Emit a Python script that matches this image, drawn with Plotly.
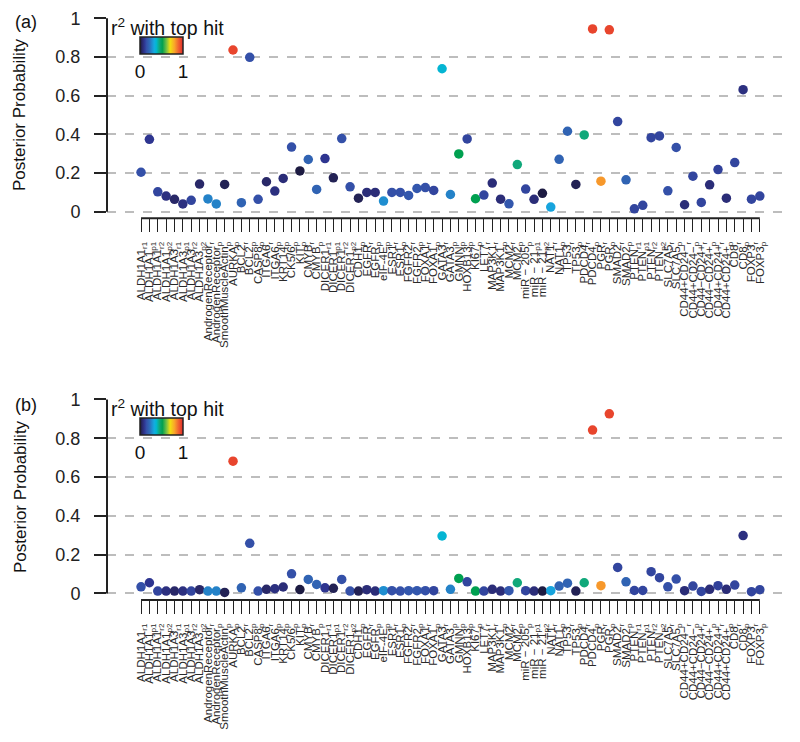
import plotly.graph_objects as go

# ---------------- data ----------------
gene_names = [
    "ALDH1A1", "ALDH1A1", "ALDH1A1", "ALDH1A1", "ALDH1A3", "ALDH1A3", "ALDH1A3", "ALDH1A3",
    "AndrogenReceptor", "AndrogenReceptor", "SmoothMuscleActin", "AURKA", "BCL2", "BCL2",
    "CASP8", "ITGA6", "ITGA6", "KRT14", "CK5/6", "KIT", "CMYB", "CMYB",
    "DICER1", "DICER1", "DICER1", "DICER1", "CDH1", "EGFR", "EGFR", "eIF-4E",
    "ESR1", "ESR1", "FGFR2", "FGFR2", "FOXA1", "FOXA1", "GATA3", "GATA3",
    "GMNN", "HOXB13", "KI67", "LET7", "MAP3K1", "MAP3K1", "MCM2", "MCM2",
    "miR − 205", "miR − 21", "miR − 21", "NAT1", "NAT1", "TP53", "TP53",
    "PDCD4", "PDCD4", "PGR", "PGR", "SMAD2", "SMAD2", "PTEN", "PTEN", "PTEN", "PTEN",
    "SLC7A5", "SLC7A5", "CD44+CD24−", "CD44+CD24−", "CD44−CD24+", "CD44−CD24+",
    "CD44+CD24+", "CD44+CD24+", "CD8", "CD8", "FOXP3", "FOXP3",
]
label_subs = [
    "r1", "p1", "r2", "p2", "r1", "p1", "r2", "p2",
    "r", "p", "p", "p", "r", "p",
    "p", "r", "p", "p", "p", "p", "r", "p",
    "r1", "p1", "r2", "p2", "p", "r", "p", "p",
    "r", "p", "r", "p", "r", "p", "r", "p",
    "p", "p", "p", "r", "r", "p", "r", "p",
    "p", "p1", "p2", "r", "p", "r", "p",
    "r", "p", "r", "p", "r", "p", "r1", "p1", "r2", "p2",
    "r", "p", "r", "p", "r", "p",
    "r", "p", "r", "p", "r", "p",
]
tick_labels = [f"{g}<sub>{s}</sub>" for g, s in zip(gene_names, label_subs)]

# posterior probabilities, panel (a)
pp_a = [
    0.204, 0.374, 0.103, 0.081, 0.064, 0.040, 0.059, 0.143, 0.066, 0.040,
    0.141, 0.836, 0.047, 0.798, 0.064, 0.155, 0.107, 0.172, 0.334, 0.211,
    0.270, 0.115, 0.275, 0.175, 0.378, 0.129, 0.070, 0.100, 0.100, 0.055,
    0.100, 0.100, 0.084, 0.120, 0.125, 0.110, 0.739, 0.089, 0.299, 0.376,
    0.067, 0.086, 0.148, 0.065, 0.041, 0.244, 0.117, 0.064, 0.095, 0.024,
    0.271, 0.416, 0.141, 0.397, 0.945, 0.158, 0.940, 0.466, 0.165, 0.015,
    0.033, 0.383, 0.392, 0.108, 0.332, 0.036, 0.184, 0.048, 0.139, 0.218,
    0.070, 0.254, 0.631, 0.065, 0.081,
]
# posterior probabilities, panel (b)
pp_b = [
    0.034, 0.055, 0.012, 0.012, 0.012, 0.012, 0.012, 0.019, 0.012, 0.012,
    0.005, 0.682, 0.029, 0.258, 0.012, 0.021, 0.024, 0.033, 0.101, 0.020,
    0.072, 0.046, 0.029, 0.026, 0.072, 0.012, 0.012, 0.019, 0.012, 0.014,
    0.014, 0.012, 0.014, 0.014, 0.014, 0.014, 0.296, 0.021, 0.077, 0.060,
    0.012, 0.012, 0.021, 0.012, 0.014, 0.055, 0.014, 0.012, 0.012, 0.014,
    0.038, 0.053, 0.012, 0.055, 0.842, 0.040, 0.926, 0.134, 0.060, 0.015,
    0.015, 0.112, 0.081, 0.034, 0.074, 0.014, 0.038, 0.010, 0.021, 0.040,
    0.021, 0.043, 0.298, 0.009, 0.019,
]
# r^2 with top hit (colour)
r2_top = [
    0.15, 0.10, 0.13, 0.08, 0.05, 0.08, 0.13, 0.05, 0.26, 0.26,
    0.03, 0.95, 0.20, 0.15, 0.15, 0.05, 0.08, 0.07, 0.15, 0.01,
    0.20, 0.20, 0.10, 0.03, 0.15, 0.15, 0.03, 0.07, 0.07, 0.28,
    0.15, 0.15, 0.17, 0.17, 0.15, 0.13, 0.37, 0.26, 0.52, 0.13,
    0.52, 0.13, 0.07, 0.07, 0.17, 0.45, 0.13, 0.07, 0.01, 0.32,
    0.20, 0.20, 0.03, 0.45, 0.95, 0.82, 0.95, 0.13, 0.20, 0.13,
    0.13, 0.13, 0.13, 0.15, 0.15, 0.07, 0.13, 0.13, 0.07, 0.12,
    0.07, 0.13, 0.08, 0.13, 0.13,
]
y_ticks = [0, 0.2, 0.4, 0.6, 0.8, 1]
y_tick_text = ["0", "0.2", "0.4", "0.6", "0.8", "1"]

colorscale = [
    [0.0, "#1a1838"], [0.05, "#292868"], [0.10, "#2e3590"], [0.15, "#3450a8"],
    [0.22, "#2f6ab8"], [0.28, "#1f8ed0"], [0.33, "#15aae0"], [0.38, "#00b8d0"],
    [0.45, "#10a87a"], [0.52, "#00a050"], [0.62, "#7cc242"], [0.70, "#f0e010"],
    [0.80, "#f9a62a"], [0.90, "#f06030"], [1.0, "#e02a2a"],
]

W, H = 792, 734
OFF = 8  # page body margin
FONT = "Liberation Sans, Arial, Helvetica, sans-serif"
idx = list(range(len(tick_labels)))


def py(p):
    return 1 - (p - OFF) / H


def px(p):
    return (p - OFF) / W


fig = go.Figure()
fig.add_trace(go.Scatter(
    x=idx, y=pp_a, mode="markers", xaxis="x", yaxis="y",
    marker=dict(size=9.5, color=r2_top, coloraxis="coloraxis", line=dict(width=0)),
    showlegend=False, cliponaxis=False,
))
fig.add_trace(go.Scatter(
    x=idx, y=pp_b, mode="markers", xaxis="x2", yaxis="y2",
    marker=dict(size=9.5, color=r2_top, coloraxis="coloraxis2", line=dict(width=0)),
    showlegend=False, cliponaxis=False,
))

xdom = [px(107), px(787)]
xrange_ = [-4.07, 77.25]
yrange_ = [-0.034, 1.005]

xaxis_common = dict(
    domain=xdom, range=xrange_, tickmode="array", tickvals=idx, ticktext=tick_labels,
    tickangle=-90, ticks="outside", ticklen=13, tickwidth=1.3, tickcolor="#222",
    showline=False, showgrid=False, zeroline=False, automargin=False,
    tickfont=dict(family=FONT, size=11.5, color="#2a2a2a"), ticklabelstandoff=5,
)
yaxis_common = dict(
    range=yrange_, tickmode="array", tickvals=y_ticks, ticktext=y_tick_text,
    ticks="outside", ticklen=12, tickwidth=1.5, tickcolor="#222", automargin=False,
    showline=False, zeroline=False, showgrid=True, gridcolor="#bdbdbd",
    griddash="dash", gridwidth=1.5, ticklabelstandoff=10,
    tickfont=dict(family=FONT, size=18, color="#222"),
)

cb_common = dict(
    orientation="h", xanchor="center", x=px(161.5), len=43, lenmode="pixels",
    thickness=17, thicknessmode="pixels", tickvals=[0, 1], ticktext=["0", "1"],
    ticks="", outlinewidth=1.5, outlinecolor="#222", xpad=0, ypad=0,
    tickfont=dict(family=FONT, size=19, color="#111"), yanchor="top",
)

fig.update_layout(
    width=W, height=H, margin=dict(l=0, r=0, t=0, b=0),
    paper_bgcolor="white", plot_bgcolor="white",
    font=dict(family=FONT, color="#111"),
    xaxis=dict(anchor="y", **xaxis_common),
    yaxis=dict(anchor="x", domain=[py(218.3), py(17.3)], **yaxis_common),
    xaxis2=dict(anchor="y2", **xaxis_common),
    yaxis2=dict(anchor="x2", domain=[py(600), py(398.5)], **yaxis_common),
    coloraxis=dict(cmin=0, cmax=1, colorscale=colorscale,
                   colorbar=dict(y=py(37), **cb_common)),
    coloraxis2=dict(cmin=0, cmax=1, colorscale=colorscale,
                    colorbar=dict(y=py(418), **cb_common)),
)

n_last = len(tick_labels) - 1
shapes = []
for xa, ya in (("x", "y"), ("x2", "y2")):
    shapes.append(dict(type="line", xref=f"{xa} domain", yref=ya, x0=0, x1=0, y0=0, y1=1,
                       line=dict(color="#222", width=2)))
    shapes.append(dict(type="line", xref=xa, yref=f"{ya} domain", x0=0, x1=n_last, y0=0, y1=0,
                       line=dict(color="#222", width=2)))
fig.update_layout(shapes=shapes)

ann = []
for lab, yc, ytitle, yc_r2 in (("(a)", 22, 115, 27), ("(b)", 405, 497, 408)):
    ann.append(dict(text=lab, x=px(26), y=py(yc), xref="paper", yref="paper",
                    showarrow=False, xanchor="center", yanchor="middle",
                    font=dict(family=FONT, size=18, color="#111")))
    ann.append(dict(text="Posterior Probability", x=px(20), y=py(ytitle), xref="paper",
                    yref="paper", showarrow=False, textangle=-90, xanchor="center",
                    yanchor="middle", font=dict(family=FONT, size=17, color="#111")))
    ann.append(dict(text="r<sup>2</sup> with top hit", x=px(109), y=py(yc_r2), xref="paper",
                    yref="paper", showarrow=False, xanchor="left", yanchor="middle",
                    font=dict(family=FONT, size=19.5, color="#111")))
fig.update_layout(annotations=ann)

fig.write_html("out.html")
